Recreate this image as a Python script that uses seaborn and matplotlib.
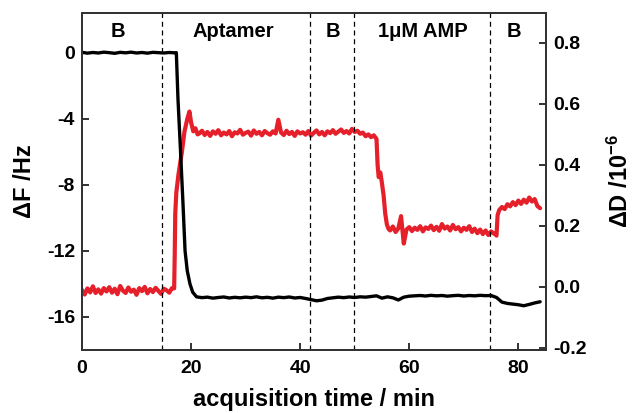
import numpy as np
import seaborn as sns
import matplotlib.pyplot as plt

# dF (Hz), black, left axis
t_f = [0, 1, 2, 3, 4, 5, 6, 7, 8, 9, 10, 11, 12, 13, 14, 15, 16, 17,
       17.3, 17.6, 18.0, 18.5, 18.9, 19.3, 19.8, 20.3, 21.0] + list(range(22, 85))
df_hz = [0.02, -0.03, 0.01, -0.02, 0.03, 0.0, -0.04, 0.02, -0.01, 0.03,
         -0.02, 0.01, -0.03, 0.02, 0.0, -0.02, 0.01, -0.01,
         0.0, -2.8, -5.5, -9.0, -12.0, -13.2, -14.0, -14.5, -14.78,
         -14.83, -14.80, -14.86, -14.82, -14.79, -14.85, -14.81, -14.84, -14.80, -14.83,
         -14.78, -14.84, -14.81, -14.86, -14.80, -14.83, -14.79, -14.85, -14.82, -14.88,
         -14.95, -15.02, -14.98, -14.88, -14.84, -14.80, -14.83, -14.79, -14.82, -14.78,
         -14.80, -14.76, -14.72, -14.86, -14.78, -14.84, -14.97, -14.80, -14.74, -14.72,
         -14.70, -14.73, -14.69, -14.72, -14.70, -14.74, -14.71, -14.69, -14.73, -14.70,
         -14.72, -14.69, -14.71, -14.70, -14.82, -15.10, -15.18, -15.22, -15.26, -15.32,
         -15.24, -15.15, -15.08]

# dD (1e-6), red, right axis
t_d = ([i * 0.5 for i in range(34)]
       + [16.9, 17.0, 17.1, 17.3, 17.7, 18.3, 18.8, 19.3, 19.7, 20.0, 20.4, 20.8, 21.2]
       + [21.5 + i * 0.5 for i in range(65)]
       + [54.0, 54.2, 54.4, 54.7, 55.0, 55.3, 55.6, 55.9, 56.2]
       + [56.5 + i * 0.5 for i in range(39)]
       + [75.8, 76.0, 76.2, 76.5]
       + [77.0 + i * 0.5 for i in range(15)])
dd = [-0.010, -0.025, -0.005, -0.018, 0.002, -0.020, -0.008, -0.022, -0.004, -0.015,
      -0.001, -0.019, -0.006, -0.024, 0.003, -0.012, -0.020, -0.002, -0.016, -0.009,
      -0.026, -0.004, -0.014, 0.000, -0.021, -0.007, -0.017, -0.003, -0.013, -0.023,
      -0.006, -0.011, -0.019, -0.004,
      -0.005, 0.10, 0.24, 0.31, 0.37, 0.44, 0.51, 0.55, 0.575, 0.54, 0.51, 0.52, 0.50,
      0.503, 0.512, 0.498, 0.508, 0.495, 0.510, 0.502, 0.514, 0.497, 0.506,
      0.500, 0.511, 0.494, 0.507, 0.503, 0.515, 0.499, 0.505, 0.509, 0.496,
      0.513, 0.502, 0.508, 0.497, 0.511, 0.504, 0.499, 0.510, 0.503, 0.548,
      0.506, 0.498, 0.512, 0.501, 0.508, 0.495, 0.510, 0.503, 0.507, 0.499,
      0.511, 0.496, 0.505, 0.513, 0.500, 0.508, 0.497, 0.510, 0.504, 0.514,
      0.502, 0.509, 0.516, 0.505, 0.511, 0.503, 0.518, 0.508, 0.512, 0.502,
      0.506, 0.494, 0.500, 0.491, 0.497,
      0.485, 0.40, 0.36, 0.375, 0.34, 0.30, 0.24, 0.205, 0.19,
      0.185, 0.198, 0.180, 0.192, 0.232, 0.142, 0.188, 0.196, 0.183, 0.194,
      0.187, 0.199, 0.182, 0.195, 0.190, 0.201, 0.186, 0.197, 0.184, 0.206,
      0.191, 0.198, 0.185, 0.203, 0.189, 0.196, 0.182, 0.194, 0.187, 0.199,
      0.180, 0.191, 0.176, 0.188, 0.173, 0.185, 0.170, 0.182, 0.175,
      0.172, 0.168, 0.235, 0.252,
      0.262, 0.255, 0.271, 0.264, 0.278, 0.268, 0.283, 0.272, 0.286, 0.276,
      0.293, 0.280, 0.288, 0.265, 0.258]

boundaries = [14.7, 41.8, 49.9, 74.9]
phase_labels = ["B", "Aptamer", "B", "1\u03bcM AMP", "B"]
phase_x = [6.6, 27.7, 46.0, 62.5, 79.2]

sns.set_style("ticks")
plt.rcParams["font.family"] = ["Liberation Sans", "DejaVu Sans"]
plt.rcParams["font.weight"] = "bold"
plt.rcParams["text.color"] = "black"
plt.rcParams["axes.labelcolor"] = "black"
plt.rcParams["axes.unicode_minus"] = False
plt.rcParams["mathtext.fontset"] = "custom"
plt.rcParams["mathtext.rm"] = "Liberation Sans:bold"
plt.rcParams["mathtext.bf"] = "Liberation Sans:bold"
plt.rcParams["mathtext.default"] = "bf"

fig = plt.figure(figsize=(6.38, 4.13), dpi=100)
ax = fig.add_axes([0.1285, 0.1525, 0.7275, 0.816])
ax2 = ax.twinx()

sns.lineplot(x=t_d, y=dd, ax=ax2, color="#e5202a", lw=3.0)
sns.lineplot(x=t_f, y=df_hz, ax=ax, color="black", lw=2.4)
ax.set_zorder(ax2.get_zorder() + 1)
ax.patch.set_visible(False)

for b in boundaries:
    ax.axvline(b, color="black", lw=0.9, ls=(0, (4, 3)))
for x, s in zip(phase_x, phase_labels):
    ax.text(x, 1.3, s, ha="center", va="center", fontsize=14.5, fontweight="bold")

ax.set_xlim(0, 85.1)
ax.set_ylim(-18, 2.4)
ax2.set_ylim(-0.207, 0.898)
ax.set_xticks([0, 20, 40, 60, 80])
ax.set_yticks([0, -4, -8, -12, -16])
ax2.set_yticks([-0.2, 0.0, 0.2, 0.4, 0.6, 0.8])

for a in (ax, ax2):
    a.tick_params(direction="in", length=5, width=1.3, labelsize=14, pad=5,
                  color="#222222", labelcolor="black")
    for s in a.spines.values():
        s.set_linewidth(1.4)
        s.set_color("#333333")
    for lab in a.get_xticklabels() + a.get_yticklabels():
        lab.set_fontweight("bold")
ax.tick_params(axis="x", pad=7)

ax.set_xlabel("acquisition time / min", fontsize=17, fontweight="bold", labelpad=8)
ax.set_ylabel("\u0394F /Hz", fontsize=17, fontweight="bold", labelpad=8)
ax2.set_ylabel("\u0394D /10$^{-6}$", fontsize=17, fontweight="bold", labelpad=15)

fig.savefig("out.png", dpi=100)
